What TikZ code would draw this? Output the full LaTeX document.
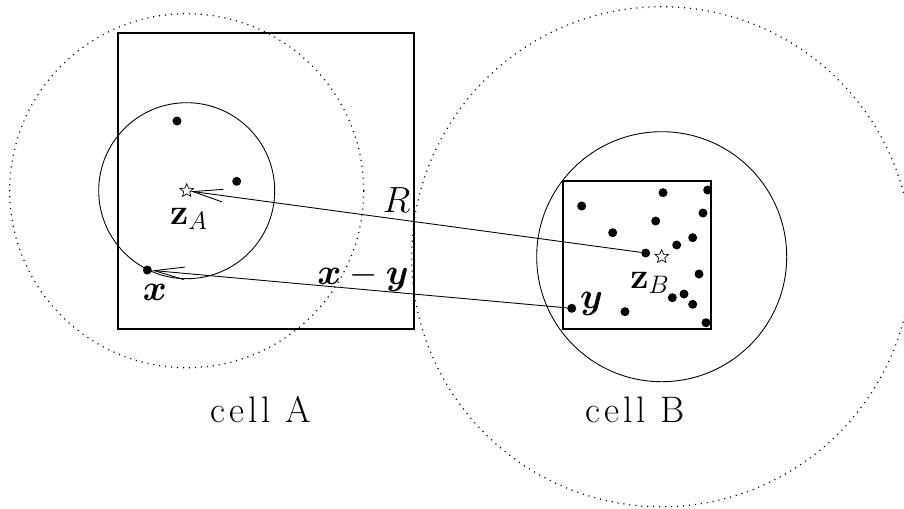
\documentclass[tikz,border=0pt]{standalone}
\usepackage{amsmath,amssymb}
\usepackage{bm}
\usetikzlibrary{arrows.meta,shapes.geometric}

% spaced-out caption letters
\newcommand{\gapk}{\kern2.2pt}
\newcommand{\cellname}[1]{c\gapk e\gapk l\gapk l\kern8.5pt #1}

\begin{document}
\begin{tikzpicture}[x=0.02cm, y=-0.02cm,
  >={Straight Barb[length=0.6cm,width=0.25cm]},
  particle/.style={circle, fill, inner sep=0pt, minimum size=0.18cm},
  centre/.style={star, star points=5, star point ratio=2.2, draw, line width=0.4pt,
                 fill=white, inner sep=0pt, minimum size=0.28cm},
  cellbox/.style={line width=1.1pt},
  sphere/.style={line width=0.5pt},
  farsphere/.style={line width=0.7pt, dash pattern=on 0.6pt off 2.8pt},
  link/.style={->, line width=0.5pt},
  lbl/.style={font=\fontsize{20}{24}\selectfont, inner sep=1pt},
  celllbl/.style={font=\fontsize{21}{24}\selectfont}
]
  \useasboundingbox (0,0) rectangle (904,508);

  % Spheres round the two centres
  \draw[farsphere] (186.7,190.7) circle (177);
  \draw[farsphere] (661.7,256.7) circle (250);
  \draw[sphere] (186.7,190.7) circle (88);
  \draw[sphere] (661.7,256.7) circle (125);

  % The two cells
  \draw[cellbox] (118,33) rectangle (414,329);
  \draw[cellbox] (563,181) rectangle (711,329);

  % Centres of expansion
  \node[centre] (zA) at (186.7,190.7) {};
  \node[centre] (zB) at (661.7,256.7) {};

  % Particles in cell A
  \node[particle] (a1) at (177,121) {};
  \node[particle] (a2) at (236.7,181.3) {};
  \node[particle] (px) at (147.3,270) {};

  % Particles in cell B
  \foreach \x/\y [count=\i] in {
    581.7/206, 663/192.7, 707.7/190, 703/213, 655.7/221,
    612.7/232.7, 692.7/237.7, 676.7/245, 699/274, 684/294,
    672.3/297.7, 692.7/304.3, 706/322.7, 625/311.7
  }{
    \node[particle] (b\i) at (\x,\y) {};
  }
  \node[particle] (pR) at (645.7,253) {};
  \node[particle] (py) at (571.7,308.3) {};

  % Separation vectors
  \draw[link] (pR) -- (zA);
  \draw[link] (py) -- (px);

  % Labels
  \node[lbl] (lzA) at (189,219) {$\mathbf{z}_{A}$};
  \node[lbl] (lzB) at (650,283) {$\mathbf{z}_{B}$};
  \node[lbl] (lx) at (155,292) {$\bm{x}$};
  \node[lbl] (ly) at (591.5,304) {$\bm{y}$};
  \node[lbl] (lR) at (396.5,200.5) {$R$};
  \node[lbl] (lxy) at (363,277) {$\bm{x}-\bm{y}$};
  \node[celllbl] (cA) at (261,410) {\cellname{A}};
  \node[celllbl] (cB) at (635,410) {\cellname{B}};

\end{tikzpicture}
\end{document}
